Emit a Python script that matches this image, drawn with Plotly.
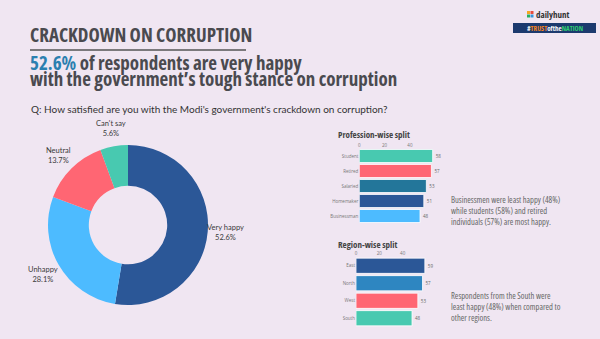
import math
import plotly.graph_objects as go

# ---------------- data ----------------
pie_labels = ["Very happy", "Unhappy", "Neutral", "Can't say"]
pie_values = [52.6, 28.1, 13.7, 5.6]
pie_colors = ["#2B5797", "#4DBBFF", "#FF6673", "#48C9B0"]

prof_cats = ["Student", "Retired", "Salaried", "Homemaker", "Businessman"]
prof_vals = [58, 57, 53, 51, 48]
prof_colors = ["#48C9B0", "#FF6673", "#23769A", "#2B5797", "#4DBBFF"]

reg_cats = ["East", "North", "West", "South"]
reg_vals = [59, 57, 53, 48]
reg_colors = ["#2B5797", "#2E86C1", "#FF6673", "#48C9B0"]

axis_ticks = [0, 20, 40]

W, H = 600, 339
BG = "#F0E6F2"
COND = "Open Sans"
BODY = "Lato, Open Sans, sans-serif"

def px(x):
    return x / W

def py(y):
    return 1 - y / H

def cond(s, bold=True, color=None):
    st = "font-stretch:75%" + (f";color:{color}" if color else "")
    s = f"<span style='{st}'>{s}</span>"
    return f"<b>{s}</b>" if bold else s

fig = go.Figure()

# ---------------- donut ----------------
cx, cy, R = 128, 225, 80
fig.add_trace(go.Pie(
    labels=pie_labels, values=pie_values, hole=0.49, sort=False,
    direction="clockwise", rotation=0, textinfo="none",
    marker=dict(colors=pie_colors, line=dict(width=0)),
    domain=dict(x=[px(cx - R), px(cx + R)], y=[py(cy + R), py(cy - R)]),
    showlegend=False, hoverinfo="label+percent",
))

total = sum(pie_values)
cum = 0
for lab, v in zip(pie_labels, pie_values):
    mid = (cum + v / 2) / total * 2 * math.pi
    cum += v
    rl = 98
    lx = cx + rl * math.sin(mid)
    ly = cy - rl * math.cos(mid)
    fig.add_annotation(x=px(lx), y=py(ly), xref="paper", yref="paper",
                       text=f"{lab}<br>{v}%", showarrow=False,
                       font=dict(family=BODY, size=7.5, color="#3a3a3a"),
                       align="center", xanchor="center", yanchor="middle")

# ---------------- profession bars ----------------
fig.add_trace(go.Bar(
    x=prof_vals, y=prof_cats, orientation="h",
    marker=dict(color=prof_colors, line=dict(color="#FFFFFF", width=0.8)),
    text=[str(v) for v in prof_vals], textposition="outside",
    textfont=dict(size=4.5, color="#666"), cliponaxis=False,
    xaxis="x", yaxis="y", showlegend=False,
))

# ---------------- region bars ----------------
fig.add_trace(go.Bar(
    x=reg_vals, y=reg_cats, orientation="h",
    marker=dict(color=reg_colors, line=dict(color="#FFFFFF", width=0.8)),
    text=[str(v) for v in reg_vals], textposition="outside",
    textfont=dict(size=4.5, color="#666"), cliponaxis=False,
    xaxis="x2", yaxis="y2", showlegend=False,
))

axis_common = dict(showgrid=False, zeroline=False, showline=False, side="top",
                   tickvals=axis_ticks, tickfont=dict(size=4.5, color="#777"),
                   ticks="", range=[0, 62], fixedrange=True)
ycommon = dict(showgrid=False, zeroline=False, showline=False, autorange="reversed",
               tickfont=dict(size=4.5, color="#777"), ticks="", fixedrange=True)

fig.update_layout(
    width=W, height=H, margin=dict(l=0, r=0, t=0, b=0),
    paper_bgcolor=BG, plot_bgcolor=BG,
    bargap=0.13,
    xaxis=dict(domain=[px(359.3), px(359.3 + 62 * 1.265)], anchor="y", **axis_common),
    yaxis=dict(domain=[py(223.5), py(148.5)], anchor="x", **ycommon),
    xaxis2=dict(domain=[px(356), px(356 + 62 * 1.167)], anchor="y2", **axis_common),
    yaxis2=dict(domain=[py(327), py(257)], anchor="x2", **ycommon),
)

# ---------------- texts ----------------
def txt(x, y, s, size, color="#444", family=BODY, xanchor="left", yanchor="middle", align="left"):
    fig.add_annotation(x=px(x), y=py(y), xref="paper", yref="paper", text=s,
                       showarrow=False, xanchor=xanchor, yanchor=yanchor, align=align,
                       font=dict(family=family, size=size, color=color))

txt(28, 35, cond("CRACKDOWN ON CORRUPTION"), 19, "#4a4a4f", COND)
fig.add_shape(type="line", xref="paper", yref="paper",
              x0=px(30), x1=px(246), y0=py(50), y1=py(50),
              line=dict(color="#555", width=1.5))
txt(28, 63, cond("52.6%", color="#2B7FB0") + cond(" of respondents are very happy"),
    19, "#4a4a4f", COND)
txt(28, 79, cond("with the government’s tough stance on corruption"), 19, "#4a4a4f", COND)
txt(29, 108.5, "Q: How satisfied are you with the Modi's government's crackdown on corruption?",
    10, "#333", BODY)

txt(336, 134, cond("Profession-wise split"), 9, "#444", COND)
txt(336, 244, cond("Region-wise split"), 9, "#444", COND)

txt(449, 210, cond("Businessmen were least happy (48%)<br>while students (58%) and retired<br>"
                   "individuals (57%) are most happy.", bold=False), 8.5, "#666", COND)
txt(449, 306, cond("Respondents from the South were<br>least happy (48%) when compared to<br>"
                   "other regions.", bold=False), 8.5, "#666", COND)

# ---------------- logo ----------------
for (dx, dy, c) in [(0, 0, "#F5A623"), (3.5, 0, "#E84C3D"), (0, 3.5, "#27AE60"), (3.5, 3.5, "#3498DB")]:
    fig.add_shape(type="rect", xref="paper", yref="paper",
                  x0=px(527 + dx), x1=px(530 + dx), y0=py(11 + dy + 3), y1=py(11 + dy),
                  fillcolor=c, line=dict(width=0))
txt(534, 15, cond("dailyhunt"), 9, "#333", COND)
fig.add_shape(type="rect", xref="paper", yref="paper",
              x0=px(513), x1=px(596), y0=py(33), y1=py(23),
              fillcolor="#1C3A6E", line=dict(width=0))
txt(554.5, 28, cond("#", color="#fff") + cond("TRUST", color="#F58220")
    + cond("ofthe", color="#fff") + cond("NATION", color="#2ECC71"),
    7, "#fff", COND, xanchor="center", yanchor="middle", align="center")

fig.write_html("out.html")
